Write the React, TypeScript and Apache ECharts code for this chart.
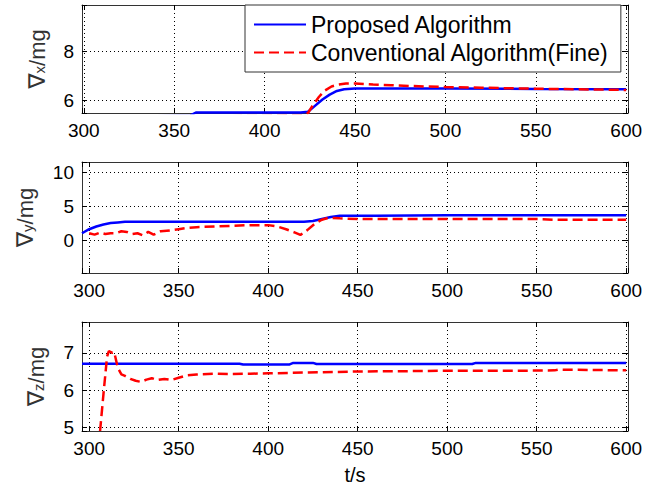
import React, { useEffect, useRef } from "react";
import * as echarts from "echarts";

// ---------- data ----------
const seriesNames = ["Proposed Algorithm", "Conventional Algorithm(Fine)"];
const xTickLabels = [300, 350, 400, 450, 500, 550, 600];

// Panel 1: ∇x
const blueXT = [299, 330, 359, 362, 380, 400, 420, 424, 428, 432, 436, 440, 444, 450, 470, 500, 550, 600];
const blueXV = [5.3, 5.35, 5.4, 5.52, 5.52, 5.52, 5.52, 5.55, 5.8, 6.05, 6.25, 6.4, 6.47, 6.5, 6.5, 6.5, 6.48, 6.47];
const redXT = [299, 420, 424, 427, 430, 433, 437, 441, 445, 450, 460, 470, 480, 490, 500, 520, 540, 560, 580, 600];
const redXV = [5.3, 5.4, 5.5, 5.85, 6.15, 6.4, 6.58, 6.66, 6.7, 6.7, 6.66, 6.63, 6.6, 6.58, 6.56, 6.53, 6.5, 6.48, 6.46, 6.44];

// Panel 2: ∇y
const blueYT = [296, 300, 304, 308, 312, 316, 320, 340, 380, 420, 425, 430, 435, 440, 460, 500, 550, 600];
const blueYV = [1.0, 1.6, 2.0, 2.3, 2.5, 2.6, 2.7, 2.7, 2.7, 2.7, 2.8, 3.1, 3.4, 3.6, 3.6, 3.65, 3.65, 3.65];
const redYT = [300, 303, 306, 309, 312, 315, 318, 321, 324, 327, 330, 333, 336, 340, 345, 350, 355, 360, 370, 380, 390, 400, 405, 410, 415, 418, 422, 426, 430, 434, 440, 450, 500, 550, 560, 600];
const redYV = [1.0, 0.8, 1.1, 0.9, 1.0, 1.0, 1.3, 1.2, 0.9, 1.0, 0.7, 1.2, 0.8, 1.3, 1.4, 1.6, 1.8, 1.9, 2.0, 2.1, 2.2, 2.2, 2.0, 1.6, 1.1, 0.75, 1.5, 2.4, 3.0, 3.3, 3.2, 3.1, 3.1, 3.1, 3.0, 3.0];

// Panel 3: ∇z
const blueZT = [296, 350, 384, 386, 395, 412, 414, 425, 427, 500, 514, 516, 600];
const blueZV = [6.71, 6.71, 6.71, 6.69, 6.69, 6.69, 6.73, 6.73, 6.7, 6.7, 6.7, 6.73, 6.73];
const redZT = [305, 306, 308, 310, 311, 313, 314, 316, 318, 320, 323, 326, 329, 332, 335, 338, 342, 346, 350, 355, 360, 370, 380, 390, 400, 420, 450, 480, 500, 540, 560, 562, 600];
const redZV = [4.5, 4.85, 5.9, 6.9, 7.05, 7.0, 7.02, 6.6, 6.42, 6.38, 6.3, 6.25, 6.22, 6.28, 6.32, 6.27, 6.3, 6.27, 6.33, 6.4, 6.42, 6.44, 6.43, 6.44, 6.45, 6.47, 6.5, 6.51, 6.52, 6.52, 6.53, 6.55, 6.53];

const zip = (t: number[], v: number[]) => t.map((x, i) => [x, v[i]]);

const FONT = "'Liberation Sans', Arial, sans-serif";
const BLUE = "#0000ff";
const RED = "#ff0000";

type Panel = {
  top: number;
  height: number;
  xMin: number;
  xMax: number;
  yMin: number;
  yMax: number;
  yStep: number;
  sub: string;
  nameGap: number;
  blue: number[][];
  red: number[][];
};

const panels: Panel[] = [
  { top: 5, height: 108, xMin: 299, xMax: 601, yMin: 5.5, yMax: 9.9, yStep: 2, sub: "x", nameGap: 31, blue: zip(blueXT, blueXV), red: zip(redXT, redXV) },
  { top: 162, height: 111, xMin: 296, xMax: 601, yMin: -4.85, yMax: 11.5, yStep: 5, sub: "y", nameGap: 44, blue: zip(blueYT, blueYV), red: zip(redYT, redYV) },
  { top: 322, height: 109, xMin: 296, xMax: 601, yMin: 4.9, yMax: 7.83, yStep: 1, sub: "z", nameGap: 33, blue: zip(blueZT, blueZV), red: zip(redZT, redZV) },
];

const isMultiple = (v: number, step: number) => Math.abs(v / step - Math.round(v / step)) < 1e-6;

function buildOption() {
  const grid: any[] = [];
  const xAxis: any[] = [];
  const yAxis: any[] = [];
  const series: any[] = [];
  const tickStyle = { show: true, inside: true, length: 5, lineStyle: { color: "#000", width: 1 } };
  const lineStyle = { show: true, onZero: false, lineStyle: { color: "#333", width: 1 } };
  const dotted = { show: true, lineStyle: { color: "#000", width: 1, type: [1, 3] } };

  panels.forEach((p, i) => {
    grid.push({ left: 82, width: 546, top: p.top, height: p.height, show: false, containLabel: false, outerBoundsMode: "none" });
    const xStep = xTickLabels[1] - xTickLabels[0];
    xAxis.push({
      type: "value", gridIndex: i, min: p.xMin, max: p.xMax, splitNumber: 6, position: "bottom",
      axisLine: lineStyle, axisTick: tickStyle, splitLine: dotted,
      axisLabel: {
        color: "#000", fontSize: 19, fontFamily: FONT, margin: 8,
        formatter: (v: number) => (isMultiple(v, xStep) && xTickLabels.includes(Math.round(v)) ? String(Math.round(v)) : ""),
      },
      name: i === 2 ? "t/s" : "", nameLocation: "middle", nameGap: 34,
      nameTextStyle: { color: "#000", fontSize: 20, fontFamily: FONT },
    });
    xAxis.push({
      type: "value", gridIndex: i, min: p.xMin, max: p.xMax, splitNumber: 6, position: "top",
      axisLine: lineStyle, axisTick: tickStyle, splitLine: { show: false }, axisLabel: { show: false },
    });
    const yName = `{n|∇}{s|${p.sub}}{m|/mg}`;
    const split = Math.max(2, Math.round((p.yMax - p.yMin) / p.yStep));
    yAxis.push({
      type: "value", gridIndex: i, min: p.yMin, max: p.yMax, splitNumber: split, position: "left",
      axisLine: lineStyle, axisTick: tickStyle, splitLine: dotted,
      axisLabel: {
        color: "#000", fontSize: 19, fontFamily: FONT, margin: 8,
        formatter: (v: number) => (isMultiple(v, p.yStep) ? String(Math.round(v)) : ""),
      },
      name: yName, nameLocation: "middle", nameRotate: 90, nameGap: p.nameGap,
      nameTextStyle: {
        color: "#000", fontFamily: FONT,
        rich: {
          n: { fontSize: 23, fontFamily: "'DejaVu Sans', sans-serif", color: "#333", lineHeight: 22, padding: [0, 0, 4, 0] },
          s: { fontSize: 15, fontFamily: FONT, color: "#333", lineHeight: 15 },
          m: { fontSize: 22, fontFamily: FONT, color: "#333", lineHeight: 22, padding: [0, 0, 4, 0] },
        },
      },
    });
    yAxis.push({
      type: "value", gridIndex: i, min: p.yMin, max: p.yMax, splitNumber: split, position: "right",
      axisLine: lineStyle, axisTick: tickStyle, splitLine: { show: false }, axisLabel: { show: false },
    });

    series.push({
      name: seriesNames[0], type: "line", xAxisIndex: 2 * i, yAxisIndex: 2 * i, data: p.blue,
      showSymbol: false, symbol: "none", clip: true,
      lineStyle: { color: BLUE, width: 2.5 }, itemStyle: { color: BLUE }, z: 3,
    });
    series.push({
      name: seriesNames[1], type: "line", xAxisIndex: 2 * i, yAxisIndex: 2 * i, data: p.red,
      showSymbol: false, symbol: "none", clip: true,
      lineStyle: { color: RED, width: 2.5, type: [10, 5] }, itemStyle: { color: RED }, z: 4,
    });
  });

  return {
    animation: false,
    backgroundColor: "#fff",
    grid,
    xAxis,
    yAxis,
    series,
    legend: {
      show: true,
      data: seriesNames,
      orient: "vertical",
      left: 245,
      top: 5,
      padding: [8, 12, 8, 8],
      itemWidth: 52,
      itemHeight: 14,
      itemGap: 5,
      backgroundColor: "#fff",
      borderColor: "#333",
      borderWidth: 1,
      borderRadius: 0,
      selectedMode: false,
      itemStyle: { opacity: 0 },
      textStyle: { color: "#000", fontSize: 23, fontFamily: FONT },
      z: 10,
    },
  };
}

export default function App() {
  const ref = useRef<HTMLDivElement>(null);
  useEffect(() => {
    if (!ref.current) return;
    const chart = echarts.init(ref.current, undefined, { renderer: "svg" });
    chart.setOption(buildOption() as any);
    return () => chart.dispose();
  }, []);
  return (
    <div
      ref={ref}
      style={{ position: "fixed", left: 0, top: 0, width: 650, height: 491, background: "#fff" }}
    />
  );
}
